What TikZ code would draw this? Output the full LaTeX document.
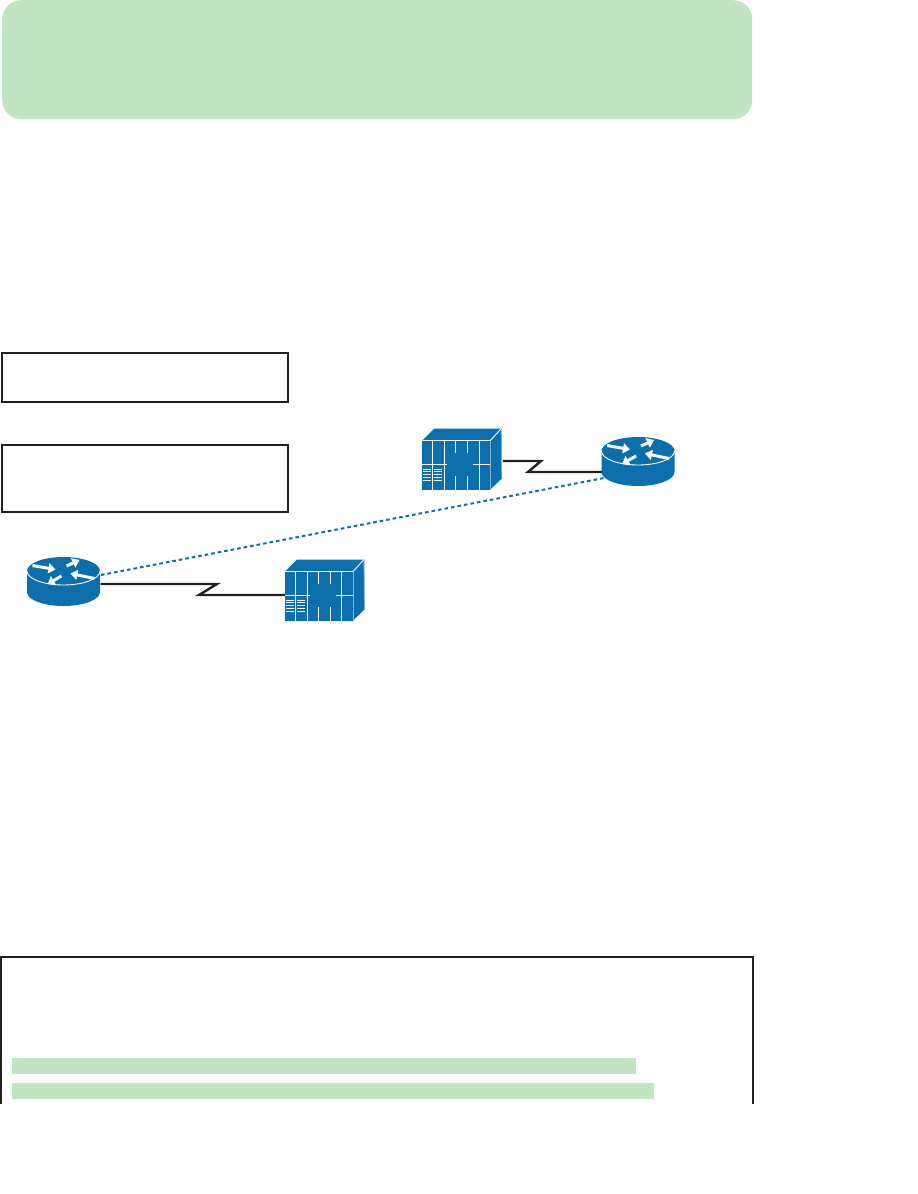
\documentclass[tikz,border=0pt]{standalone}
\usepackage{xcolor}
\usepackage{tikz}
\usetikzlibrary{arrows.meta, positioning}
\definecolor{vgreen}{HTML}{C1E4C1}
\definecolor{vink}{HTML}{231F20}
\definecolor{vblue}{HTML}{0D6EAD}
\definecolor{vpale}{HTML}{7FB2D8}
\tikzset{
  x=1pt, y=-1pt,
  banner/.style={rectangle, rounded corners=19pt, fill=vgreen, minimum width=750pt, minimum height=119pt, inner sep=0pt},
  legendbox/.style={rectangle, draw=vink, line width=2.2pt, fill=white, minimum width=286pt, inner sep=0pt},
  hilite/.style={rectangle, fill=vgreen, minimum height=16pt, inner sep=0pt},
  frameline/.style={draw=vink, line width=2pt},
  wan/.style={draw=vink, line width=2.4pt, line join=miter},
  tunnel/.style={draw=vblue, line width=2pt, dash pattern=on 3.6pt off 3pt},
  rarrow/.style={white, line width=3pt, -{Triangle[length=7pt, width=10pt]}},
  thinwhite/.style={white, line width=0.9pt},
  router/.pic={
    \fill[vblue] (-36.5,0) -- (-36.5,21) arc[start angle=180, end angle=0, x radius=36.5, y radius=14] -- (36.5,0) -- cycle;
    \fill[vblue] (0,0) ellipse [x radius=36.5, y radius=14];
    \draw[thinwhite] (-36.5,0) arc[start angle=180, end angle=0, x radius=36.5, y radius=14];
    \draw[rarrow] (-31,-5.5) -- (-8,-1.5);
    \draw[rarrow] (3,-5) -- (16,-11);
    \draw[rarrow] (31,7.5) -- (7,2.5);
    \draw[rarrow] (-2,5) -- (-16,13);
    \coordinate (-wanr) at (37,13);
    \coordinate (-wanl) at (-36,21);
    \coordinate (-tunr) at (37.5,4);
    \coordinate (-tunl) at (-34,27);
  },
  mux/.pic={
    \fill[vblue] (0,0) rectangle (68,49);
    \fill[vblue] (0,0) -- (12,-12) -- (79,-12) -- (68,0) -- cycle;
    \fill[vblue] (68,0) -- (79,-12) -- (79.5,38) -- (68,49) -- cycle;
    \draw[vpale, line width=1pt] (68,0) -- (68,49);
    \draw[vpale, line width=0.8pt] (79,-12) -- (79.5,38);
    \draw[thinwhite] (0,0) -- (68,0) -- (79,-12);
    \foreach \xpos in {10.3, 22.3, 56.7} {\draw[thinwhite] (\xpos,0) -- (\xpos,49);}
    \foreach \xpos in {33.3, 45} {
      \draw[thinwhite] (\xpos,0) -- (\xpos,12);
      \draw[thinwhite] (\xpos,35) -- (\xpos,49);
    }
    \draw[thinwhite] (0,24.3) -- (25,24.3);
    \draw[thinwhite] (51,24.3) -- (68,24.3);
    \foreach \ypos in {28.3, 31, 34, 36.7, 39.3} {
      \draw[thinwhite, line width=0.6pt] (1,\ypos) -- (8.5,\ypos);
      \draw[thinwhite, line width=0.6pt] (12,\ypos) -- (20,\ypos);
    }
    \coordinate (-west) at (0,23.5);
    \coordinate (-east) at (80.5,20.5);
  }
}
\begin{document}
\begin{tikzpicture}
  \useasboundingbox (0,0) rectangle (918,1194);
  \node[banner, anchor=north west] (head) at (2,0) {};
  \node[legendbox, anchor=north west, minimum height=49pt] (keya) at (1,352) {};
  \node[legendbox, below=40.5pt of keya.south west, anchor=north west, minimum height=67pt] (keyb) {};
  % routers and muxes
  \pic (rleft) at (63.5,571) {router};
  \pic (rright) at (638,451) {router};
  \pic (mleft) at (285,571.5) {mux};
  \pic (mright) at (422.3,440.5) {mux};
  % links
  \coordinate (zla) at (217,584);
  \coordinate (zlb) at (199,595);
  \coordinate (zra) at (541,461);
  \coordinate (zrb) at (528,472);
  \draw[wan] (rleft-wanr) -- (zla) -- (zlb) -- (mleft-west);
  \draw[wan] (mright-east) -- (zra) -- (zrb) -- (rright-wanl);
  \draw[tunnel] (rleft-tunr) -- (rright-tunl);
  % config panel
  \coordinate (pla) at (1,1104);
  \coordinate (plb) at (1,957);
  \coordinate (plc) at (752.5,957);
  \coordinate (pld) at (752.5,1104);
  \draw[frameline] (pla) -- (plb) -- (plc) -- (pld);
  \node[hilite, anchor=north west, minimum width=624pt] (lineone) at (12,1058) {};
  \node[hilite, below=8.6pt of lineone.south west, anchor=north west, minimum width=642pt] (linetwo) {};
\end{tikzpicture}
\end{document}
